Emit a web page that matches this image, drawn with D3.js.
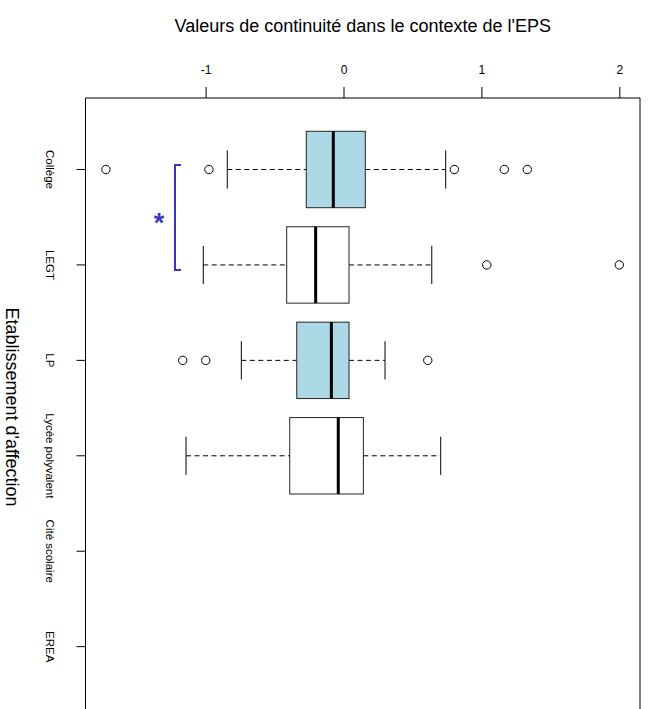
<!DOCTYPE html>
<html>
<head>
<meta charset="utf-8">
<script src="https://cdn.jsdelivr.net/npm/d3@7"></script>
<style>
  html, body { margin: 0; padding: 0; background: #fff; }
  svg { display: block; font-family: "Liberation Sans", Arial, Helvetica, sans-serif; }
</style>
</head>
<body>
<svg id="chart" width="649" height="709"></svg>
<script>
// ---- data ----
const categories = ["Collège", "LEGT", "LP", "Lycée polyvalent", "Cité scolaire", "EREA"];
const whiskerLow  = [-0.843, -1.017, -0.741, -1.142];
const q1          = [-0.270, -0.412, -0.339, -0.390];
const medians     = [-0.074, -0.202, -0.088, -0.038];
const q3          = [ 0.158,  0.040,  0.040,  0.144];
const whiskerHigh = [ 0.741,  0.640,  0.301,  0.705];
const outliers = [
  [-1.723, -0.976, 0.804, 1.166, 1.333],
  [1.039, 2.000],
  [-1.166, -0.999, 0.611],
  []
];
const boxFills = ["#ADD8E6", "#FFFFFF", "#ADD8E6", "#FFFFFF"];
const xTicks = [-1, 0, 1, 2];
const xTickLabels = ["-1", "0", "1", "2"];
const xTitle = "Valeurs de continuité dans le contexte de l'EPS";
const yTitle = "Etablissement d'affection";
const sigFrom = "Collège", sigTo = "LEGT", sigLabel = "*", sigValue = -1.222;

// ---- layout ----
const svg = d3.select("#chart");
const pLeft = 85.5, pRight = 640, pTop = 98, pBottom = 716;
const x = d3.scaleLinear().domain([-1.871, 2.15]).range([pLeft, pRight]);
const y = d3.scaleLinear().domain([0, categories.length - 1]).range([169.5, 646.65]);
const catY = c => y(categories.indexOf(c));
const half = 38.2;      // half box height
const capHalf = 19.1;   // half staple length

// frame
svg.append("path")
  .attr("d", `M${pLeft},${pBottom}V${pTop}H${pRight}V${pBottom}`)
  .attr("fill", "none").attr("stroke", "#000").attr("stroke-width", 1);

// top axis
const xAxis = d3.axisTop(x).tickValues(xTicks)
  .tickFormat((d, i) => xTickLabels[i]).tickSize(11).tickSizeOuter(0).tickPadding(13);
const gx = svg.append("g").attr("transform", `translate(0,${pTop})`).call(xAxis);
gx.select(".domain").remove();
gx.selectAll("text").attr("font-size", 12).attr("fill", "#000")
  .attr("font-family", "Liberation Sans, Arial, sans-serif");
gx.selectAll("line").attr("stroke", "#000");

// left axis ticks + rotated labels
const gy = svg.append("g");
gy.selectAll("line").data(categories).join("line")
  .attr("x1", pLeft - 9).attr("x2", pLeft)
  .attr("y1", (d, i) => y(i)).attr("y2", (d, i) => y(i))
  .attr("stroke", "#000");
gy.selectAll("text").data(categories).join("text")
  .attr("transform", (d, i) => `translate(50,${y(i)}) rotate(90)`)
  .attr("text-anchor", "middle").attr("dominant-baseline", "central")
  .attr("font-size", 11.5).text(d => d);

// titles
svg.append("text").attr("x", (pLeft + pRight) / 2).attr("y", 32)
  .attr("text-anchor", "middle").attr("font-size", 18).text(xTitle);
svg.append("text").attr("transform", `translate(12,${(pTop + pBottom) / 2}) rotate(90)`)
  .attr("text-anchor", "middle").attr("dominant-baseline", "central")
  .attr("font-size", 18).text(yTitle);

// boxes
const boxes = q1.map((d, i) => ({
  i, lo: whiskerLow[i], q1: q1[i], med: medians[i], q3: q3[i], hi: whiskerHigh[i],
  out: outliers[i], fill: boxFills[i]
}));
const g = svg.append("g");
boxes.forEach(b => {
  const cy = y(b.i);
  g.append("line").attr("x1", x(b.lo)).attr("x2", x(b.q1)).attr("y1", cy).attr("y2", cy)
    .attr("stroke", "#000").attr("stroke-dasharray", "5,3.5");
  g.append("line").attr("x1", x(b.q3)).attr("x2", x(b.hi)).attr("y1", cy).attr("y2", cy)
    .attr("stroke", "#000").attr("stroke-dasharray", "5,3.5");
  [b.lo, b.hi].forEach(v => {
    g.append("line").attr("x1", x(v)).attr("x2", x(v)).attr("y1", cy - capHalf).attr("y2", cy + capHalf)
      .attr("stroke", "#000");
  });
  g.append("rect").attr("x", x(b.q1)).attr("y", cy - half)
    .attr("width", x(b.q3) - x(b.q1)).attr("height", 2 * half)
    .attr("fill", b.fill).attr("stroke", "#222").attr("stroke-width", 1);
  g.append("line").attr("x1", x(b.med)).attr("x2", x(b.med)).attr("y1", cy - half).attr("y2", cy + half)
    .attr("stroke", "#000").attr("stroke-width", 3);
  g.selectAll(null).data(b.out).join("circle")
    .attr("cx", d => x(d)).attr("cy", cy).attr("r", 4.2)
    .attr("fill", "none").attr("stroke", "#000").attr("stroke-width", 1);
});

// significance bracket
const sx = x(sigValue), sy1 = catY(sigFrom) - 4.5, sy2 = catY(sigTo) + 5;
svg.append("path")
  .attr("d", `M${sx + 6},${sy1}H${sx}V${sy2}H${sx + 6}`)
  .attr("fill", "none").attr("stroke", "#3B35C0").attr("stroke-width", 2);
svg.append("text").attr("x", sx - 16).attr("y", (sy1 + sy2) / 2 + 15)
  .attr("text-anchor", "middle").attr("font-size", 27).attr("font-weight", "bold")
  .attr("fill", "#3B35C0").text(sigLabel);
</script>
</body>
</html>
